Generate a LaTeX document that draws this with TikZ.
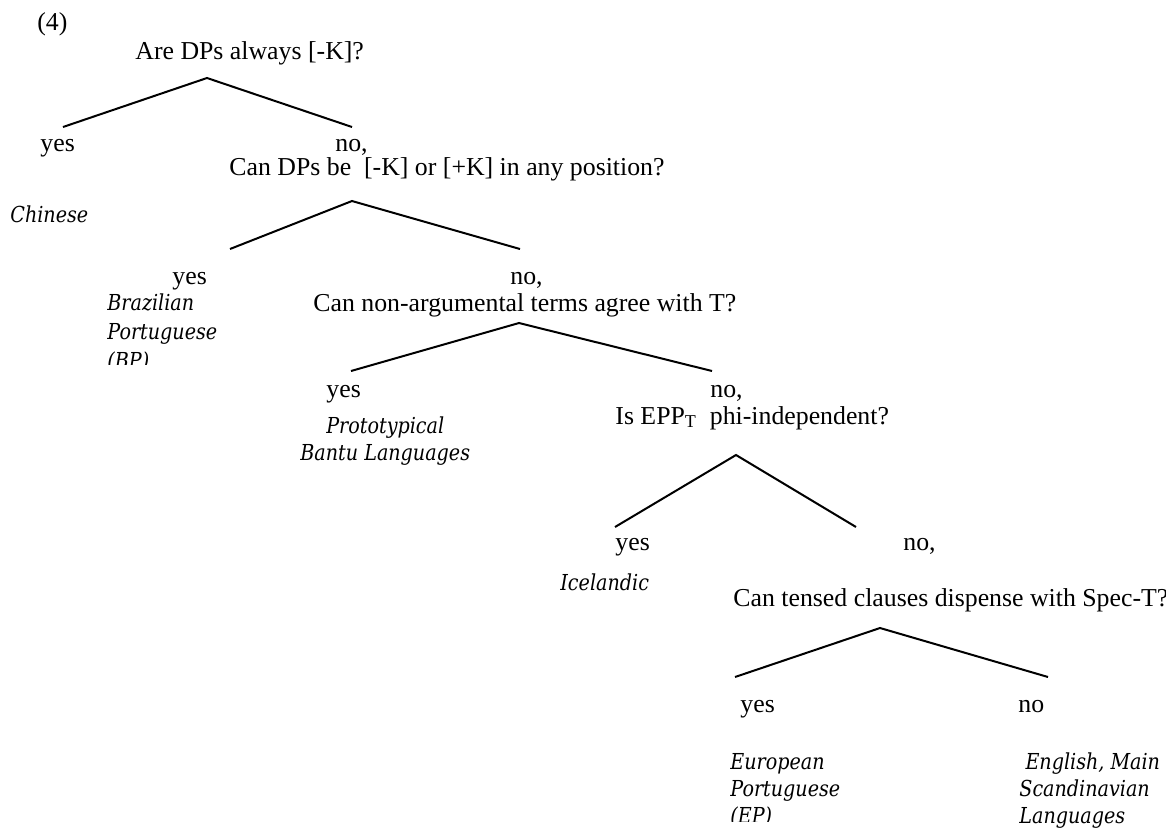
\documentclass[tikz,border=0pt]{standalone}
\usepackage{fontspec}
\setmainfont{Liberation Serif}
\newfontfamily\langfont{DejaVu Serif}[FakeStretch=0.87]
\usetikzlibrary{positioning}
\tikzstyle{question} = [anchor=base west, inner sep=0pt,
                        font=\fontsize{12.9}{15}\selectfont]
\tikzstyle{answer}   = [question]
\tikzstyle{lang}     = [anchor=base west, inner sep=0pt, align=left,
                        font=\langfont\itshape\fontsize{11}{13.5}\selectfont]
\tikzstyle{branch}   = [line width=1pt, black]

\begin{document}
\begin{tikzpicture}[x=0.5pt, y=-0.5pt]
  \clip (0,0) rectangle (1166,831);
  \node[question] (num) at (37,30) {(4)};

  % first question
  \node[question] (q1) at (135,59) {Are DPs always [-K]?};
  \coordinate (t1) at (207,78);
  \coordinate (t1l) at (63,127);
  \coordinate (t1r) at (352,127);
  \node[answer] (yes1) at (40,151) {yes};
  \node[answer] (no1) at (335,151) {no,};
  \node[lang] (chinese) at (10,222) {Chinese};

  % second question
  \node[question] (q2) at (229,175) {Can DPs be\ \ [-K] or [+K] in any position?};
  \coordinate (t2) at (352,201);
  \coordinate (t2l) at (230,249);
  \coordinate (t2r) at (520,249);
  \node[answer] (yes2) at (172,284) {yes};
  \node[answer] (no2) at (510,284) {no,};
  % last line of a block sits on the given baseline
  \begin{scope}
    \clip (0,0) rectangle (400,364);
    \node[lang, font=\langfont\itshape\fontsize{11}{14.5}\selectfont]
      (brazil) at (107,368) {Brazilian\\Portuguese\\(BP)};
  \end{scope}

  % third question
  \node[question] (q3) at (313,311) {Can non-argumental terms agree with T?};
  \coordinate (t3) at (519,323);
  \coordinate (t3l) at (351,371);
  \coordinate (t3r) at (712,371);
  \node[answer] (yes3) at (326,397) {yes};
  \node[answer] (no3) at (710,397) {no,};
  \node[lang, align=center] (bantu) at (300,460) {Prototypical\\Bantu Languages};

  % fourth question
  \node[question] (q4) at (615,424) {Is EPP\textsubscript{T}\ \ phi-independent?};
  \coordinate (t4) at (736,455);
  \coordinate (t4l) at (615,527);
  \coordinate (t4r) at (856,527);
  \node[answer] (yes4) at (615,550) {yes};
  \node[answer] (no4) at (903,550) {no,};
  \node[lang] (iceland) at (560,590) {Icelandic};

  % fifth question
  \node[question] (q5) at (733,606) {Can tensed clauses dispense with Spec-T?};
  \coordinate (t5) at (880,628);
  \coordinate (t5l) at (735,677);
  \coordinate (t5r) at (1048,677);
  \node[answer] (yes5) at (740,712) {yes};
  \node[answer] (no5) at (1018,712) {no};
  \begin{scope}
    \clip (0,0) rectangle (1166,821);
    \node[lang] (europe) at (730,823) {European\\Portuguese\\(EP)};
  \end{scope}
  \node[lang] (english) at (1019,823) {\ English, Main\\Scandinavian\\Languages};

  \draw[branch] (t1l) -- (t1) -- (t1r);
  \draw[branch] (t2l) -- (t2) -- (t2r);
  \draw[branch] (t3l) -- (t3) -- (t3r);
  \draw[branch] (t4l) -- (t4) -- (t4r);
  \draw[branch] (t5l) -- (t5) -- (t5r);
\end{tikzpicture}
\end{document}
